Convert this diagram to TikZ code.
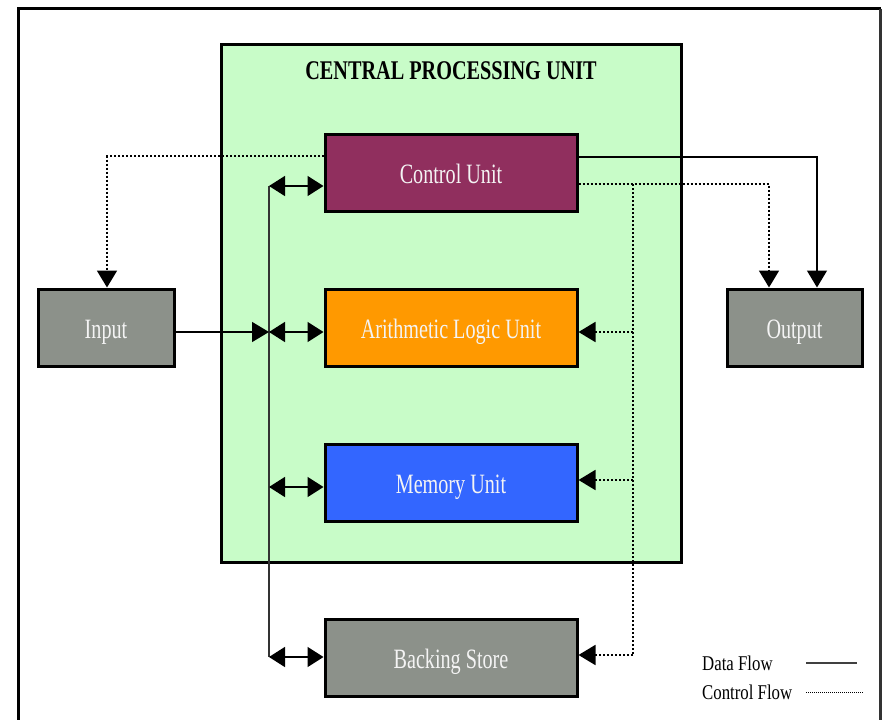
\documentclass[tikz,border=0pt]{standalone}
\usepackage{fontspec}
\setmainfont{Liberation Serif}
\newfontfamily\condfont[FakeStretch=0.72]{Liberation Serif}
\newfontfamily\titlefont[FakeStretch=0.75]{Liberation Serif}
\newfontfamily\legfont[FakeStretch=0.8]{Liberation Serif}
\usetikzlibrary{arrows.meta,calc}
\definecolor{cpugreen}{HTML}{C8FCC8}
\definecolor{cumaroon}{HTML}{902F5E}
\definecolor{aluorange}{HTML}{FF9900}
\definecolor{memblue}{HTML}{3366FF}
\definecolor{boxgray}{HTML}{8C918A}
\definecolor{textwhite}{HTML}{F4F4F4}
\tikzset{
  unitbox/.style={draw=black, line width=3pt, minimum width=252pt, minimum height=77pt,
    inner sep=0pt, text height=21pt, text depth=0pt,
    font=\condfont\fontsize{28}{30}\selectfont, text=textwhite},
  iobox/.style={unitbox, minimum width=136pt, fill=boxgray},
  cpubox/.style={draw=black, line width=3pt, fill=cpugreen, minimum width=460pt, minimum height=518pt, inner sep=0pt},
  dataflow/.style={draw=black, line width=1.5pt},
  busline/.style={draw=black!80, line width=1.5pt},
  ctrlflow/.style={draw=black, line width=1.8pt, dash pattern=on 2pt off 2pt},
  tip/.style={-{Triangle[length=17pt,width=20pt]}},
  dtip/.style={{Triangle[length=16pt,width=20pt]}-{Triangle[length=16pt,width=20pt]}},
  legtext/.style={anchor=west, inner sep=0pt, font=\legfont\fontsize{21}{23}\selectfont},
  frameline/.style={draw=black, line width=3pt},
}
\begin{document}
\begin{tikzpicture}[x=1pt,y=-1pt]
\useasboundingbox (0,0) rectangle (886,720);
\fill[white] (0,0) rectangle (886,720);
% outer frame
\draw[frameline] (18,720) -- (18,8.5) -- (880.5,8.5);
\draw[draw=black!80, line width=2.2pt] (880.5,8.5) -- (880.5,720);
% CPU
\node[cpubox] (cpu) at (451,303) {};
\node[inner sep=0pt, font=\titlefont\bfseries\fontsize{27}{29}\selectfont] (title) at (451,71) {CENTRAL PROCESSING UNIT};
% units
\node[unitbox, fill=cumaroon] (cu) at (451,172.5) {Control Unit};
\node[unitbox, fill=aluorange] (alu) at (451,327.5) {Arithmetic Logic Unit};
\node[unitbox, fill=memblue] (mem) at (451,482.5) {Memory Unit};
\node[unitbox, fill=boxgray] (bs) at (451,657.5) {Backing Store};
\node[iobox] (in) at (106,327.5) {Input};
\node[iobox, minimum width=135pt] (out) at (794.5,327.5) {Output};
% data bus
\coordinate (busT) at (269,186);
\coordinate (busA) at (269,332);
\coordinate (busM) at (269,487);
\coordinate (busB) at (269,657);
\draw[busline] (busT) -- (busB);
\draw[dataflow, dtip] (busT) -- (busT -| cu.west);
\draw[dataflow, dtip] (busA) -- (busA -| alu.west);
\draw[dataflow, dtip] (busM) -- (busM -| mem.west);
\draw[dataflow, dtip] (busB) -- (busB -| bs.west);
\draw[dataflow, tip] (busA -| in.east) -- (busA);
% data flow CU -> Output
\draw[dataflow, tip] ([yshift=15.5pt]cu.east) -| ([xshift=22.5pt]out.north);
% control flow
\draw[ctrlflow, tip] ([yshift=16.5pt]cu.west) -| ([xshift=1pt]in.north);
\draw[ctrlflow, tip] ([yshift=-11.5pt]cu.east) -| ([xshift=-25.5pt]out.north);
\coordinate (cT) at (633,184);
\coordinate (cA) at (633,332);
\coordinate (cM) at (633,480);
\coordinate (cB) at (633,655);
\draw[ctrlflow] (cT) -- (cB);
\draw[ctrlflow, tip] (cA) -- (cA -| alu.east);
\draw[ctrlflow, tip] (cM) -- (cM -| mem.east);
\draw[ctrlflow, tip] (cB) -- (cB -| bs.east);
% legend
\node[legtext] (ldata) at (702,663) {Data Flow};
\node[legtext] (lctrl) at (702,692) {Control Flow};
\coordinate (ld1) at (806,663);
\coordinate (ld2) at (857,663);
\coordinate (lc1) at (806,692);
\coordinate (lc2) at (863,692);
\draw[draw=black!75, line width=2pt] (ld1) -- (ld2);
\draw[draw=black, line width=1pt, dash pattern=on 1pt off 1pt] (lc1) -- (lc2);
\end{tikzpicture}
\end{document}
